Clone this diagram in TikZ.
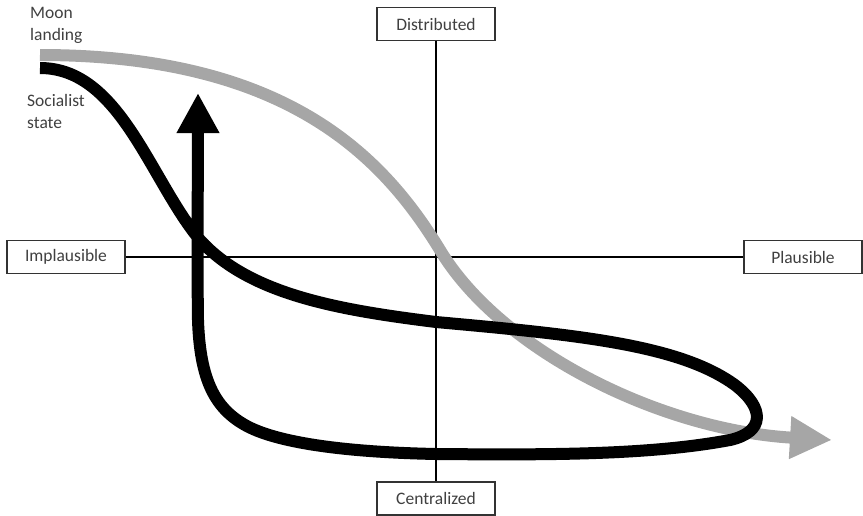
\documentclass[tikz,border=0pt]{standalone}
\usepackage{fontspec}
\setmainfont{Carlito}
\usepackage{tikz}
\usetikzlibrary{arrows.meta}
\definecolor{curvegray}{HTML}{A6A6A6}
\definecolor{textgray}{HTML}{404040}
\tikzset{
  labelbox/.style={draw=textgray!80!black,line width=1.2pt,fill=white,text=textgray,
    minimum width=118pt,minimum height=33pt,inner sep=0pt,font=\fontsize{17.5}{21}\selectfont},
  curvelabel/.style={text=textgray,align=left,anchor=north west,inner sep=0pt,
    font=\fontsize{17.5}{22}\selectfont},
  thickcurve/.style={line width=12pt,line cap=butt},
}
\begin{document}
\begin{tikzpicture}[x=1pt,y=-1pt]
      \useasboundingbox (0,0) rectangle (863,515);
      \node[labelbox] (dist) at (436,24) {Distributed};
      \node[labelbox] (cent) at (436,498.5) {Centralized};
      \node[labelbox] (impl) at (66,257) {Implausible};
      \node[labelbox] (plaus) at (803,257) {Plausible};

      \draw[line width=1.5pt] (dist) -- (cent);
      \draw[line width=1.5pt] (impl) -- (plaus);

      \node[curvelabel] (moon) at (30,7) {Moon\\landing};
      \node[curvelabel] (soc) at (27,94) {Socialist\\state};

      \coordinate (gstart) at (40,55);
      \coordinate (gmid) at (440,250);
      \coordinate (gend) at (832,440);
      \draw[thickcurve,curvegray,-{Triangle[length=42pt,width=40pt]}]
        (gstart) .. controls (290,55) and (385,160) .. (gmid)
        .. controls (500,350) and (660,430) .. (gend);

      \coordinate (bstart) at (40,68);
      \coordinate (bend) at (198,93);
      \draw[thickcurve,black,-{Triangle[length=40pt,width=40pt]}]
        (bstart) .. controls (120,68) and (150,180) .. (200,240)
        .. controls (250,295) and (340,310) .. (436,322)
        .. controls (580,335) and (680,345) .. (735,385)
        .. controls (765,408) and (765,432) .. (730,440)
        .. controls (650,455) and (550,455) .. (436,454)
        .. controls (340,452) and (275,442) .. (245,425)
        .. controls (215,408) and (200,380) .. (198,320)
        .. controls (197,250) and (198,180) .. (bend);
\end{tikzpicture}
\end{document}
